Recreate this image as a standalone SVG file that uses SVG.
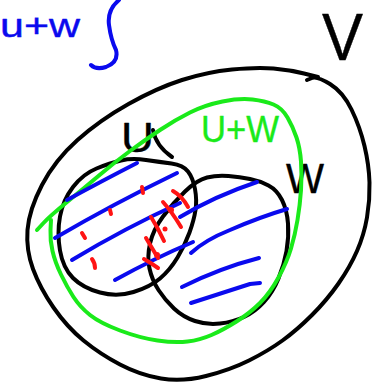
<svg xmlns="http://www.w3.org/2000/svg" width="383" height="390" viewBox="0 0 383 390">
<style>
.s{fill:none;stroke-width:4;stroke-linecap:round;stroke-linejoin:round}
.k{stroke:#000}
.b{stroke:#0a0aee}
.g{stroke:#1aea1a}
.r{stroke:#ff1414}
.t{font-family:"Liberation Sans","DejaVu Sans",sans-serif;stroke-width:0.4;stroke-linejoin:round}
</style>
<rect width="383" height="390" fill="#fff"/>
<g id="annotation-uw">
<text class="t" x="0" y="37" font-size="33" textLength="80" lengthAdjust="spacingAndGlyphs" fill="#0a0aee" stroke="#0a0aee">u+w</text>
<path class="s b" d="M119,0 Q107,10 109,25 Q111,40 116,50 Q119,62 106,67 Q96,70 91,65"/>
</g>
<g id="node-V">
<path class="s k" d="M307,80 L312,78 Q317,76 330,84 Q343,92 351.5,109.5 Q360,127 364.5,146 Q369,165 369.5,182.5 Q370,200 367,217.5 Q364,235 357,251 Q350,267 338.5,283.5 Q327,300 312,315 Q297,330 282.5,340.5 Q268,351 249,360.5 Q230,370 206,376 Q182,382 161,378.5 Q140,375 120,364.5 Q100,354 83.5,340.5 Q67,327 53.5,307.5 Q40,288 33,269 Q26,250 27.5,230 Q29,210 42,185 Q55,160 77.5,140 Q100,120 128.5,104 Q157,88 182,80 Q207,72 232,69.5 Q257,67 273.5,68.5 Q290,70 304,73.5 L318,77"/>
<text class="t" x="322" y="60" font-size="66" textLength="41" lengthAdjust="spacingAndGlyphs" fill="#000" stroke="#000">V</text>
</g>
<g id="node-U">
<path class="s k" d="M96.5,168.5 Q110,163 121,160.5 Q132,158 146,160 Q160,162 171.5,163.5 Q183,165 188,171.5 Q193,178 195,189 Q197,200 195.5,210 Q194,220 189.5,232.5 Q185,245 177.5,257.5 Q170,270 160,278.5 Q150,287 133.5,292 Q117,297 100,292.5 Q83,288 73,278 Q63,268 60,250.5 Q57,233 60,216.5 Q63,200 73,187 Q83,174 96.5,168.5 Z"/>
<path class="s k" d="M153,130 Q156,146 172,157"/>
<text class="t" x="121" y="152" font-size="42" textLength="33" lengthAdjust="spacingAndGlyphs" fill="#000" stroke="#000">U</text>
</g>
<g id="node-W">
<path class="s k" d="M185,191.5 Q197,180 207,177.5 Q217,175 228.5,176 Q240,177 250,179 Q260,181 268.5,185.5 Q277,190 282,200 Q287,210 288,223.5 Q289,237 286.5,251 Q284,265 278.5,278.5 Q273,292 264,302 Q255,312 244,317 Q233,322 220,323.5 Q207,325 195,321 Q183,317 174,308.5 Q165,300 158.5,290 Q152,280 149.5,268.5 Q147,257 150,243.5 Q153,230 163,216.5 Q173,203 185,191.5 Z"/>
<text class="t" x="286" y="193" font-size="42" textLength="38" lengthAdjust="spacingAndGlyphs" fill="#000" stroke="#000">W</text>
</g>
<g id="node-UplusW">
<path class="s g" d="M37,230 L43.5,223 Q50,216 66.5,202.5 Q83,189 99,175.5 Q115,162 130,151 Q145,140 160,130 Q175,120 190,112.5 Q205,105 222.5,101.5 Q240,98 252.5,99.5 Q265,101 273.5,104.5 Q282,108 287.5,117.5 Q293,127 296.5,137.5 Q300,148 301,161.5 Q302,175 301,190 Q300,205 297.5,220 Q295,235 291,248.5 Q287,262 278.5,277.5 Q270,293 260,303 Q250,313 236.5,321.5 Q223,330 211.5,335 Q200,340 187.5,341.5 Q175,343 157.5,340.5 Q140,338 120,330.5 Q100,323 90,315 Q80,307 73.5,297 Q67,287 61,274.5 Q55,262 52.5,251 Q50,240 50.5,230 L51,220"/>
<text class="t" x="201" y="142" font-size="37" textLength="78" lengthAdjust="spacingAndGlyphs" fill="#1aea1a" stroke="#1aea1a">U+W</text>
</g>
<g id="hatching-blue">
<path class="s b" d="M67,200 Q100,182 137,163"/>
<path class="s b" d="M55,238 Q115,203 177,173"/>
<path class="s b" d="M72,260 Q125,228 180,203"/>
<path class="s b" d="M115,280 Q155,258 193,242"/>
<path class="s b" d="M180,217 Q215,196 257,182"/>
<path class="s b" d="M191,253 Q205,240 230,230 Q260,217 287,209"/>
<path class="s b" d="M182,287 Q220,268 259,258"/>
<path class="s b" d="M191,303 Q225,292 250,284 L260,283"/>
</g>
<g id="hatching-red">
<path class="s r" stroke-width="5" d="M142,187 L143,193"/>
<path class="s r" stroke-width="5" d="M110,210 L111,214"/>
<path class="s r" stroke-width="5" d="M82,233 L85,238"/>
<path class="s r" d="M92,259 Q95,263 95,268"/>
<path class="s r" d="M173,191 Q182,196 188,207"/>
<path class="s r" d="M163,202 Q172,212 181,227"/>
<circle cx="171" cy="210" r="3" fill="#ff1414"/>
<path class="s r" d="M151,217 Q158,228 164,241"/>
<circle cx="165" cy="229" r="2.5" fill="#ff1414"/>
<path class="s r" d="M146,238 Q152,248 158,258"/>
<circle cx="157" cy="255" r="3" fill="#ff1414"/>
<path class="s r" d="M144,259 Q151,263 158,268"/>
</g>
</svg>
